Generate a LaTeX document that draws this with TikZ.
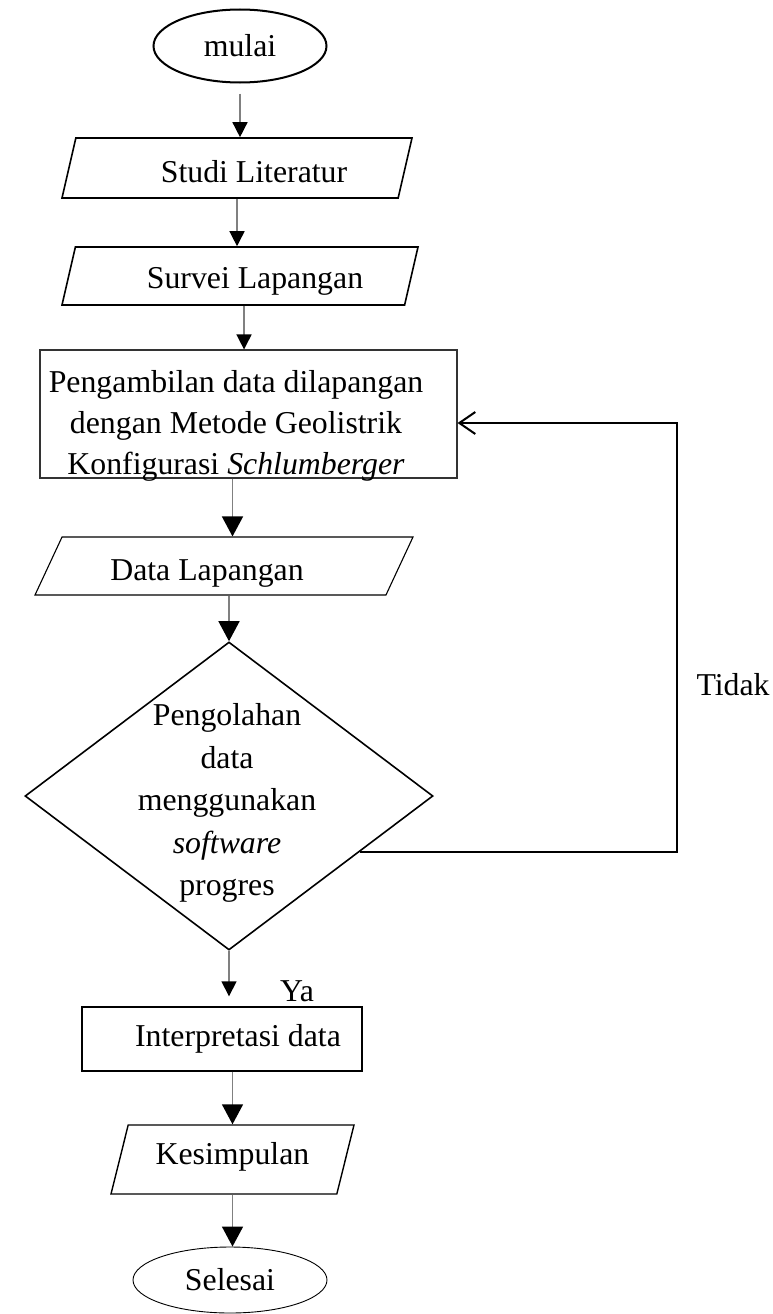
\documentclass[tikz,border=0pt]{standalone}
\usepackage{fontspec}
\setmainfont{Liberation Serif}
\usetikzlibrary{shapes.geometric, arrows.meta}

\begin{document}
\begin{tikzpicture}[x=1pt, y=-1pt,
    font=\fontsize{31.8}{41}\selectfont,
    terminal/.style={draw, ellipse, inner sep=0pt},
    io/.style 2 args={draw, trapezium, trapezium left angle=#1,
        trapezium right angle=#2, trapezium stretches body=true, inner sep=0pt},
    process/.style={draw, rectangle, inner sep=0pt},
    decision/.style={draw, diamond, inner sep=0pt, line width=1.6pt},
    flow/.style={draw=black!50, line width=1.5pt,
        -{Triangle[color=black, length=15pt, width=15pt]}},
    bigflow/.style={flow, -{Triangle[color=black, length=20pt, width=21pt]}},
    loopback/.style={draw=black, line width=2pt,
        -{Straight Barb[length=16pt, width=22pt]}}]

    % Ukuran gambar
    \useasboundingbox (0,0) rectangle (772,1314);

    % Bentuk-bentuk diagram alir
    \node[terminal, line width=2pt, minimum width=173pt, minimum height=73pt]
        (mulai) at (240,46) {mulai};
    \node[io={77}{103}, line width=1.6pt, minimum width=350pt, text height=44pt, text depth=16pt]
        (studi) at (237,168) {\hspace*{34pt}Studi Literatur};
    \node[io={77}{103}, line width=1.6pt, minimum width=356pt, text height=41pt, text depth=17pt]
        (survei) at (240,276) {\hspace*{30pt}Survei Lapangan};
    \node[process, line width=1.1pt, draw=black!80, minimum width=417pt, minimum height=128pt,
        text height=79.5pt, text depth=43.5pt]
        (peng) at (248.5,414) {\begin{tabular}{@{}c@{}}Pengambilan data dilapangan\\
        dengan Metode Geolistrik\\ Konfigurasi \textit{Schlumberger}\end{tabular}\hspace*{25pt}};
    \node[io={65}{115}, line width=1.1pt, minimum width=378pt, text height=43pt, text depth=15pt]
        (data) at (224,566) {Data Lapangan\hspace*{34pt}};
    \node[decision, minimum width=408pt, minimum height=308pt] (dec) at (229,796) {};
    \node[align=center, inner sep=0pt, font=\fontsize{31.8}{42.5}\selectfont]
        (dectxt) at (227,803) {Pengolahan\\ data\\ menggunakan\\ \textit{software}\\ progres};
    \node[process, line width=1.4pt, minimum width=280pt, minimum height=64pt]
        (interp) at (222,1039) {\hspace*{32pt}Interpretasi data};
    \node[io={76}{104}, line width=1.4pt, minimum width=243pt, text height=39pt, text depth=30pt]
        (kesim) at (232.5,1159.5) {Kesimpulan};
    \node[terminal, line width=0.9pt, minimum width=194pt, minimum height=66pt]
        (selesai) at (230,1280) {Selesai};

    % Keterangan
    \node[anchor=west] (tidak) at (693,685) {Tidak};
    \node (ya) at (297,991) {Ya};
    \coordinate (turn) at (677,0);

    % Panah
    \draw[flow] ([yshift=-10pt]mulai.south) -- (mulai.south |- studi.north);
    \draw[flow] (studi.south) -- (studi.south |- survei.north);
    \draw[flow] ([xshift=4pt]survei.south) -- ([xshift=4pt]survei.south |- peng.north);
    \draw[bigflow] ([xshift=-16pt]peng.south) -- ([xshift=-16pt]peng.south |- data.north);
    \draw[bigflow] (dec.north |- data.south) -- (dec.north);
    \draw[flow, shorten >=10pt] (dec.south) -- (dec.south |- interp.north);
    \draw[bigflow] (kesim.north |- interp.south) -- (kesim.north);
    \draw[bigflow] (kesim.south) -- (kesim.south |- selesai.north);

    % Kembali jika tidak
    \draw[loopback] (dec.-23) -- (dec.-23 -| turn) |- ([yshift=-9pt]peng.east);

\end{tikzpicture}
\end{document}
